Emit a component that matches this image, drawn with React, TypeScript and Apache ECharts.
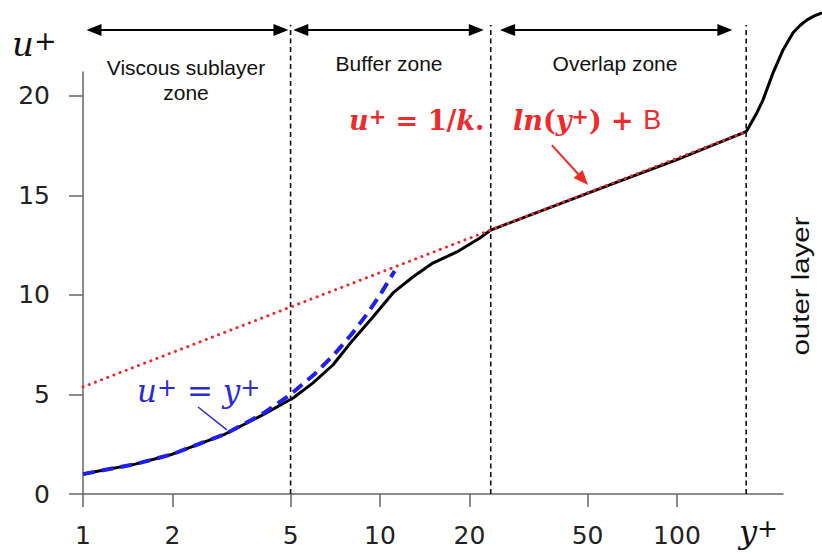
import { useEffect, useRef } from "react";
import * as echarts from "echarts";

// Axis ticks
const X_TICKS = [1, 2, 5, 10, 20, 50, 100];
const Y_TICKS = [0, 5, 10, 15, 20];

// Mean velocity profile: viscous sublayer, buffer and overlap region (y+, u+)
const wallYPlus = [1, 1.5, 2, 3, 4, 5.1, 5.95, 6.94, 8.11, 9.47, 11.06, 12.9, 15.06, 18.15, 21.7, 23.6, 60, 100, 171];
const wallUPlus = [1, 1.5, 2, 3, 3.95, 4.82, 5.58, 6.48, 7.74, 8.89, 10.1, 10.9, 11.6, 12.16, 12.86, 13.26, 15.55, 16.8, 18.2];

// Wake / outer layer part of the profile
const outerYPlus = [171, 185, 194.8, 210.5, 227.5, 245.8, 260, 274, 290, 307.7];
const outerUPlus = [18.2, 19.1, 19.8, 21.16, 22.31, 23.17, 23.55, 23.82, 24.02, 24.17];

// Linear law u+ = y+
const linearYPlus = [1, 1.5, 2, 3, 4, 5, 6, 7, 8, 9, 10, 11.2];
const linearUPlus = [1, 1.5, 2, 3, 4, 5, 6, 7, 8, 9, 10, 11.2];

// Log law u+ = 1/k ln(y+) + B
const logLawYPlus = [1, 171];
const logLawUPlus = [5.38, 18.2];

// Zone boundaries and the spans drawn above them
const zoneBounds = [5, 23.6, 171];
const zoneTop = 23.56;
const spanStart = [1.089, 5.41, 26.9];
const spanEnd = [4.64, 21.1, 145];
const spanLevel = 23.31;

// Pointer from the log-law label, leader from the linear-law label
const pointerYPlus = [37.9, 48.3];
const pointerUPlus = [17.53, 15.8];
const leaderYPlus = [2.44, 3.05];
const leaderUPlus = [4.37, 3.22];

const zip = (xs: number[], ys: number[]) => xs.map((x, i) => [x, ys[i]]);

const SANS = "Liberation Sans, Arial, sans-serif";
const RED = "#ee2a2a";
const BLUE = "#2b2bd6";

const mathRich = (size: number, color: string, weight: string) => ({
  m: { fontFamily: "DejaVu Serif", fontStyle: "italic", fontWeight: weight, fontSize: size, fill: color },
  r: { fontFamily: "DejaVu Serif", fontWeight: weight, fontSize: size, fill: color },
  p: { fontFamily: "DejaVu Sans", fontWeight: weight, fontSize: Math.round(size * 0.78), fill: color, verticalAlign: "top" },
  s: { fontFamily: SANS, fontWeight: "normal", fontSize: size, fill: color },
});

export default function App() {
  const ref = useRef<HTMLDivElement>(null);

  useEffect(() => {
    if (!ref.current) return;
    const chart = echarts.init(ref.current, undefined, { renderer: "svg" });

    const base = {
      type: "line",
      silent: true,
      clip: false,
      showSymbol: false,
      symbol: "none",
      animation: false,
    };

    const axisColor = "#666";
    // Same decade width on both grids; the second one reaches the right edge
    const mainMax = 227.5;
    const wideMax = 307.7;

    chart.setOption({
      animation: false,
      backgroundColor: "#fff",
      grid: [
        { left: 83, right: 39, top: 72, bottom: 60, containLabel: false, outerBoundsMode: "none" },
        { left: 83, right: 0, top: 72, bottom: 60, containLabel: false, outerBoundsMode: "none" },
      ],
      xAxis: [
        {
          type: "log",
          logBase: 10,
          min: 1,
          max: mainMax,
          gridIndex: 0,
          axisLine: { show: true, onZero: false, lineStyle: { color: axisColor, width: 1.5 } },
          axisTick: { show: true, length: 13, customValues: X_TICKS, lineStyle: { color: axisColor, width: 1.5 } },
          axisLabel: {
            customValues: X_TICKS,
            margin: 29,
            fontSize: 25,
            color: "#222",
            fontFamily: "DejaVu Sans",
            formatter: (v: number) => String(Math.round(v)),
          },
          splitLine: { show: false },
          minorTick: { show: false },
        },
        {
          type: "log",
          logBase: 10,
          min: 1,
          max: wideMax,
          gridIndex: 1,
          show: false,
        },
      ],
      yAxis: [
        {
          type: "value",
          min: 0,
          max: 21.2,
          gridIndex: 0,
          axisLine: { show: true, onZero: false, lineStyle: { color: axisColor, width: 1.5 } },
          axisTick: { show: true, length: 14, customValues: Y_TICKS, lineStyle: { color: axisColor, width: 1.5 } },
          axisLabel: { customValues: Y_TICKS, margin: 33, fontSize: 25, color: "#222", fontFamily: "DejaVu Sans" },
          splitLine: { show: false },
        },
        { type: "value", min: 0, max: 21.2, gridIndex: 1, show: false },
      ],
      series: [
        ...zoneBounds.map((b) => ({
          ...base,
          data: [
            [b, 0],
            [b, zoneTop],
          ],
          lineStyle: { color: "#111", width: 1.6, type: [5, 3.5] },
          z: 1,
        })),
        ...spanStart.map((s, i) => ({
          ...base,
          showSymbol: true,
          symbol: "triangle",
          symbolSize: [12, 15],
          data: [
            { value: [s, spanLevel], symbolRotate: 90 },
            { value: [spanEnd[i], spanLevel], symbolRotate: -90 },
          ],
          itemStyle: { color: "#000" },
          lineStyle: { color: "#000", width: 2.2 },
          z: 2,
        })),
        {
          ...base,
          data: zip(wallYPlus, wallUPlus),
          lineStyle: { color: "#000", width: 3, join: "round" },
          z: 3,
        },
        {
          ...base,
          xAxisIndex: 1,
          yAxisIndex: 1,
          data: zip(outerYPlus, outerUPlus),
          lineStyle: { color: "#000", width: 3, join: "round" },
          z: 3,
        },
        {
          ...base,
          data: zip(linearYPlus, linearUPlus),
          lineStyle: { color: "#1f1ff0", width: 4, type: [12, 7] },
          z: 4,
        },
        {
          ...base,
          data: zip(logLawYPlus, logLawUPlus),
          lineStyle: { color: RED, width: 3, type: [0.1, 6.5], cap: "round" },
          z: 5,
        },
        {
          ...base,
          showSymbol: true,
          symbol: "triangle",
          symbolSize: [12, 15],
          data: [
            { value: [pointerYPlus[0], pointerUPlus[0]], symbol: "none" },
            { value: [pointerYPlus[1], pointerUPlus[1]], symbolRotate: -138 },
          ],
          itemStyle: { color: RED },
          lineStyle: { color: RED, width: 2 },
          z: 6,
        },
        {
          ...base,
          data: zip(leaderYPlus, leaderUPlus),
          lineStyle: { color: BLUE, width: 1.5 },
          z: 6,
        },
      ],
      graphic: [
        {
          type: "text",
          x: 12,
          y: 44,
          style: { text: "{m|u}{p|+}", rich: mathRich(34, "#111", "normal"), verticalAlign: "middle" },
        },
        {
          type: "text",
          x: 739,
          y: 532,
          style: { text: "{m|y}{p|+}", rich: mathRich(32, "#111", "normal"), verticalAlign: "middle" },
        },
        {
          type: "text",
          x: 186,
          y: 80,
          style: {
            text: "Viscous sublayer\nzone",
            font: `21px ${SANS}`,
            lineHeight: 25,
            fill: "#111",
            align: "center",
            verticalAlign: "middle",
          },
        },
        {
          type: "text",
          x: 389,
          y: 63,
          style: { text: "Buffer zone", font: `21px ${SANS}`, fill: "#111", align: "center", verticalAlign: "middle" },
        },
        {
          type: "text",
          x: 615,
          y: 63,
          style: { text: "Overlap zone", font: `21px ${SANS}`, fill: "#111", align: "center", verticalAlign: "middle" },
        },
        {
          type: "text",
          x: 801,
          y: 286,
          rotation: Math.PI / 2,
          scaleX: 1.28,
          style: { text: "outer layer", font: `23px ${SANS}`, fill: "#111", align: "center", verticalAlign: "middle" },
        },
        {
          type: "text",
          x: 349,
          y: 120,
          style: {
            text: "{m|u}{p|+}{r| = 1/}{m|k}{r|.}",
            rich: mathRich(27, RED, "bold"),
            verticalAlign: "middle",
          },
        },
        {
          type: "text",
          x: 513,
          y: 120,
          style: {
            text: "{m|ln}{r|(}{m|y}{p|+}{r|) + }{s|B}",
            rich: mathRich(27, RED, "bold"),
            verticalAlign: "middle",
          },
        },
        {
          type: "text",
          x: 137,
          y: 391,
          style: {
            text: "{m|u}{p|+}{r| = }{m|y}{p|+}",
            rich: mathRich(31, BLUE, "normal"),
            verticalAlign: "middle",
          },
        },
      ],
    });

    return () => chart.dispose();
  }, []);

  return (
    <div
      ref={ref}
      style={{ position: "fixed", left: 0, top: 0, width: 822, height: 554, background: "#fff" }}
    />
  );
}
